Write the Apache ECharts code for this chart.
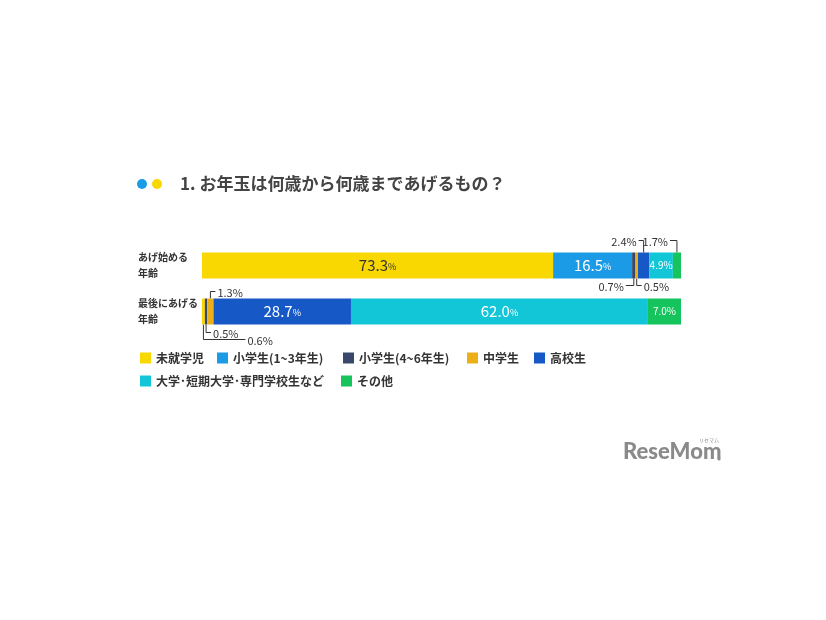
<!DOCTYPE html>
<html><head><meta charset="utf-8">
<script src="https://cdn.jsdelivr.net/npm/echarts@6/dist/echarts.min.js"></script>
<style>html,body{margin:0;padding:0;background:#fff}#c{width:826px;height:620px}</style>
</head><body><div id="c"></div>
<script>
// ---- data ----
const categories = ['あげ始める\n年齢', '最後にあげる\n年齢'];
const seriesNames = ['未就学児', '小学生(1~3年生)', '小学生(4~6年生)', '中学生', '高校生', '大学･短期大学･専門学校生など', 'その他'];
const preschool = [73.3, 0.6];
const elem13 = [16.5, 0];
const elem46 = [0.7, 0.5];
const juniorHigh = [0.5, 1.3];
const highSchool = [2.4, 28.7];
const university = [4.9, 62.0];
const others = [1.7, 7.0];
const seriesValues = [preschool, elem13, elem46, juniorHigh, highSchool, university, others];

// ---- styles ----
const colors = ['#F9D700', '#1B9BE6', '#38476A', '#ECAF16', '#1558C6', '#12C6D7', '#15C45C'];
const labelColors = ['#333', '#fff', '#fff', '#fff', '#fff', '#fff', '#fff'];
// legend item placement (left x, top y)
const legendPos = [[140, 352], [217, 352], [343, 352], [467, 352], [534, 352], [140, 375], [341, 375]];
// small-value callouts: series index, row index, direction, side, vertical & horizontal length
const callouts = [
  {s: 4, r: 0, dir: 'up', side: 'left', drop: 12, arm: 5},
  {s: 6, r: 0, dir: 'up', side: 'left', drop: 12, arm: 7},
  {s: 2, r: 0, dir: 'down', side: 'left', drop: 7, arm: 8},
  {s: 3, r: 0, dir: 'down', side: 'right', drop: 7, arm: 5},
  {s: 3, r: 1, dir: 'up', side: 'right', drop: 7, arm: 5},
  {s: 2, r: 1, dir: 'down', side: 'right', drop: 8, arm: 5},
  {s: 0, r: 1, dir: 'down', side: 'right', drop: 15, arm: 42}
];

const chart = echarts.init(document.getElementById('c'));
const FONT = '"Noto Sans CJK JP", "Noto Sans", sans-serif';

const series = seriesNames.map((name, i) => ({
  name, type: 'bar', stack: 'total', barWidth: 26,
  data: seriesValues[i],
  itemStyle: {color: colors[i]},
  emphasis: {disabled: true},
  label: {
    show: true,
    position: 'inside',
    fontFamily: FONT,
    formatter: p => p.value >= 4 ? (p.value >= 10 ? '{n|' + p.value.toFixed(1) + '}{p|%}' : '{s|' + p.value.toFixed(1) + '%}') : '',
    rich: {
      n: {fontSize: 15, color: labelColors[i], fontFamily: FONT, fontWeight: 'normal'},
      p: {fontSize: 9, color: labelColors[i], fontFamily: FONT, padding: [3, 0, 0, 0]},
      s: {fontSize: 10, color: labelColors[i], fontFamily: FONT}
    }
  }
}));

const legendText = {fontSize: 12, fontWeight: 'bold', color: '#333', fontFamily: FONT};
const legends = seriesNames.map((n, i) => ({
  data: [n], left: legendPos[i][0], top: legendPos[i][1], padding: 0,
  icon: 'rect', itemWidth: 11, itemHeight: 11, itemGap: 0, textStyle: legendText, selectedMode: false
}));

chart.setOption({
  animation: false,
  grid: {left: 202, right: 145, top: 242.5, height: 92},
  xAxis: {type: 'value', min: 0, max: 100, show: false},
  yAxis: {
    type: 'category', data: categories, inverse: true,
    axisLine: {show: false}, axisTick: {show: false},
    axisLabel: {align: 'left', margin: 64, fontSize: 10, fontWeight: 'bold', color: '#333', lineHeight: 16, fontFamily: FONT}
  },
  legend: legends,
  series
});

// build title, callouts, logo
const g = [];
g.push({type: 'circle', shape: {cx: 142, cy: 184, r: 5}, style: {fill: '#1B9BE6'}});
g.push({type: 'circle', shape: {cx: 157, cy: 184, r: 5}, style: {fill: '#F9D700'}});
g.push({type: 'text', x: 180, y: 184, style: {text: '1. お年玉は何歳から何歳まであげるもの？', fontSize: 17, fontWeight: 'bold', fill: '#444', fontFamily: FONT, verticalAlign: 'middle'}});

callouts.forEach(c => {
  let start = 0;
  for (let k = 0; k < c.s; k++) start += seriesValues[k][c.r];
  const v = seriesValues[c.s][c.r];
  const [x, yc] = chart.convertToPixel({gridIndex: 0}, [start + v / 2, c.r]);
  const y0 = c.dir === 'up' ? yc - 13 : yc + 13;
  const y1 = c.dir === 'up' ? y0 - c.drop : y0 + c.drop;
  const x1 = c.side === 'left' ? x - c.arm : x + c.arm;
  g.push({type: 'polyline', shape: {points: [[x, y0], [x, y1], [x1, y1]]}, style: {stroke: '#333', lineWidth: 1, fill: null}});
  g.push({type: 'text', x: c.side === 'left' ? x1 - 2 : x1 + 2, y: y1 + 1, style: {
    text: v.toFixed(1) + '%', fontSize: 11, fill: '#333', fontFamily: FONT,
    align: c.side === 'left' ? 'right' : 'left', verticalAlign: 'middle'}});
});

g.push({type: 'text', x: 623, y: 452, style: {text: 'ReseMom', fontSize: 22, fontWeight: 900, fill: '#8a8a8a', fontFamily: 'Lato, Inter, sans-serif', verticalAlign: 'middle'}});
g.push({type: 'circle', shape: {cx: 719, cy: 459, r: 1.5}, style: {fill: '#8a8a8a'}});
g.push({type: 'text', x: 699, y: 440, style: {text: 'リセマム', fontSize: 5, fill: '#8a8a8a', fontFamily: FONT, verticalAlign: 'middle'}});

chart.setOption({graphic: g});
</script></body></html>
